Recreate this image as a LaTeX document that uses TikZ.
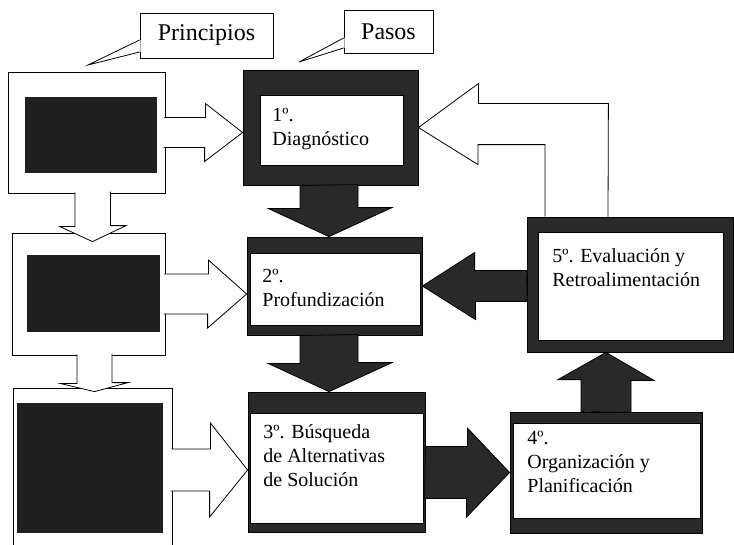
\documentclass[tikz,border=0pt]{standalone}
\usepackage{fontspec}
\setmainfont{Liberation Serif}
\usetikzlibrary{calc}
\begin{document}
\begin{tikzpicture}[x=1pt,y=-1pt,line width=0.8pt,line join=miter,
    plainbox/.style={draw,fill=white,inner sep=0pt},
    darkfill/.style={fill=black!88,inner sep=0pt},
    stepframe/.style={draw,fill=black!84,inner sep=0pt},
    stepwhite/.style={draw,fill=white,inner sep=0pt},
    steptext/.style={anchor=north west,align=left,inner sep=0pt,font=\rmfamily\fontsize{20}{24}\selectfont},
    tagbox/.style={draw,fill=white,inner sep=0pt,font=\rmfamily\fontsize{24}{28}\selectfont},
    hollowarrow/.style={draw,fill=white},
    heavyarrow/.style={draw,fill=black!84}]
  \useasboundingbox (0,0) rectangle (734,544);
  \clip (0,0) rectangle (734,544);

  \node[plainbox,minimum width=157pt,minimum height=121pt] (pa) at (86.5,132.5) {};
  \node[darkfill,minimum width=132pt,minimum height=76pt] (ba) at (91,135) {};
  \node[plainbox,minimum width=153pt,minimum height=122pt] (pb) at (88.5,294) {};
  \node[darkfill,minimum width=133pt,minimum height=77pt] (bb) at (93.5,293.5) {};
  \node[plainbox,minimum width=159pt,minimum height=164pt] (pc) at (92.5,470) {};
  \node[darkfill,minimum width=146pt,minimum height=130pt] (bc) at (90,468) {};

  \node[stepframe,minimum width=175pt,minimum height=115pt] (p1) at (330.5,127.5) {};
  \node[stepwhite,minimum width=143pt,minimum height=70pt] (w1) at (331.5,130) {};
  \node[steptext] (t1) at (272,108) {1º.\\Diagnóstico};
  \node[stepframe,minimum width=175pt,minimum height=98pt] (p2) at (334.5,286) {};
  \node[stepwhite,minimum width=170pt,minimum height=72pt] (w2) at (335,289) {};
  \node[steptext] (t2) at (262,269) {2º.\\Profundización};
  \node[stepframe,minimum width=177pt,minimum height=140pt] (p3) at (336.5,462) {};
  \node[stepwhite,minimum width=173pt,minimum height=110pt] (w3) at (336.5,468) {};
  \node[steptext] (t3) at (263,424) {3º. Búsqueda\\de Alternativas\\de Solución};
  \node[stepframe,minimum width=192pt,minimum height=121pt] (p4) at (606,472.5) {};
  \node[stepwhite,minimum width=187pt,minimum height=95pt] (w4) at (606.5,470.5) {};
  \node[steptext] (t4) at (527,431) {4º.\\Organización y\\Planificación};
  \node[stepframe,minimum width=206pt,minimum height=135pt] (p5) at (630,284.5) {};
  \node[stepwhite,minimum width=185pt,minimum height=108pt] (w5) at (630.5,286) {};
  \node[steptext] (t5) at (552,248) {5º. Evaluación y\\Retroalimentación};

  \node[tagbox,minimum width=133pt,minimum height=45pt] (lp) at (206.5,35.5) {Principios};
  \node[tagbox,minimum width=89pt,minimum height=43pt] (ls) at (388.5,31.5) {Pasos};
  \coordinate (ta) at (88,65);
  \coordinate (ts) at (299,62);
  \fill[white] ([xshift=1pt,yshift=-4.5pt]lp.west) -- (ta) -- ([xshift=1pt,yshift=-16.5pt]lp.west) -- cycle;
  \draw ([yshift=-4.5pt]lp.west) -- (ta) -- ([yshift=-16.5pt]lp.west);
  \fill[white] ([xshift=1pt,yshift=-6.5pt]ls.west) -- (ts) -- ([xshift=1pt,yshift=-16.5pt]ls.west) -- cycle;
  \draw ([yshift=-6.5pt]ls.west) -- (ts) -- ([yshift=-16.5pt]ls.west);

  \draw[hollowarrow] ($(pa.east)+(-1,-15)$) -- ++(41,0) -- ++(0,-14) -- (p1.west |- pa.east) -- ++(-38,29) -- ++(0,-14) -- ++(-41,0);
  \draw[hollowarrow] ($(pb.east)+(-1,-20)$) -- ++(44,0) -- ++(0,-14) -- (p2.west |- pb.east) -- ++(-39,34) -- ++(0,-14) -- ++(-44,0);
  \draw[hollowarrow] ($(pc.east)+(-1,-21)$) -- ++(39,0) -- ++(0,-26) -- (p3.west |- pc.east) -- ++(-38,47) -- ++(0,-26) -- ++(-39,0);
  \draw[hollowarrow] ($(pa.south)+(-11.5,-1)$) -- ++(0,34) -- ++(-15.5,0) -- ($(pa.south |- pb.north)+(6,9)$) -- ++(33.5,-16) -- ++(-15.5,0) -- ++(0,-34);
  \draw[hollowarrow] ($(pb.south)+(-11.5,-1)$) -- ++(0,29) -- ++(-17,0) -- ($(pb.south |- pc.north)+(6,4)$) -- ++(33.5,-9) -- ++(-16,0) -- ++(0,-29);

  \draw[heavyarrow] ($(p1.south)+(-30.5,0)$) -- ++(0,23) -- ++(-32,0) -- ($(p1.south |- p2.north)+(-1.5,0)$) -- ++(63,-29) -- ++(-34,0) -- ++(0,-23) -- cycle;
  \draw[heavyarrow] ($(p2.south)+(-34.5,0)$) -- ++(0,28) -- ++(-32,0) -- ($(p2.south |- p3.north)+(-5.5,0)$) -- ++(63,-29) -- ++(-34,0) -- ++(0,-28) -- cycle;
  \draw[heavyarrow] ($(p3.east |- p4.west)+(0,-26)$) -- ++(42,0) -- ++(0,-18.5) -- (p4.west) -- ++(-43,44.5) -- ++(0,-18.5) -- ++(-42,0) -- cycle;
  \draw[heavyarrow] ($(p4.north)+(-25,0)$) -- ++(0,-32) -- ++(-23,0) -- (p4.north |- p5.south) -- ++(48,28) -- ++(-23,0) -- ++(0,32) -- cycle;
  \draw[heavyarrow] ($(p5.west |- p2.east)+(0,-15.5)$) -- ++(-52,0) -- ++(0,-18) -- (p2.east) -- ++(53,33.5) -- ++(0,-18) -- ++(52,0) -- cycle;

  \draw[hollowarrow] ($(p5.north)+(-85,0)$) -- ++(0,-72) -- ++(-67,0) -- ++(0,20) -- (p1.east) -- ++(60,-44) -- ++(0,20) -- ++(130,0) -- ($(p5.north)+(-22,0)$);
\end{tikzpicture}
\end{document}
